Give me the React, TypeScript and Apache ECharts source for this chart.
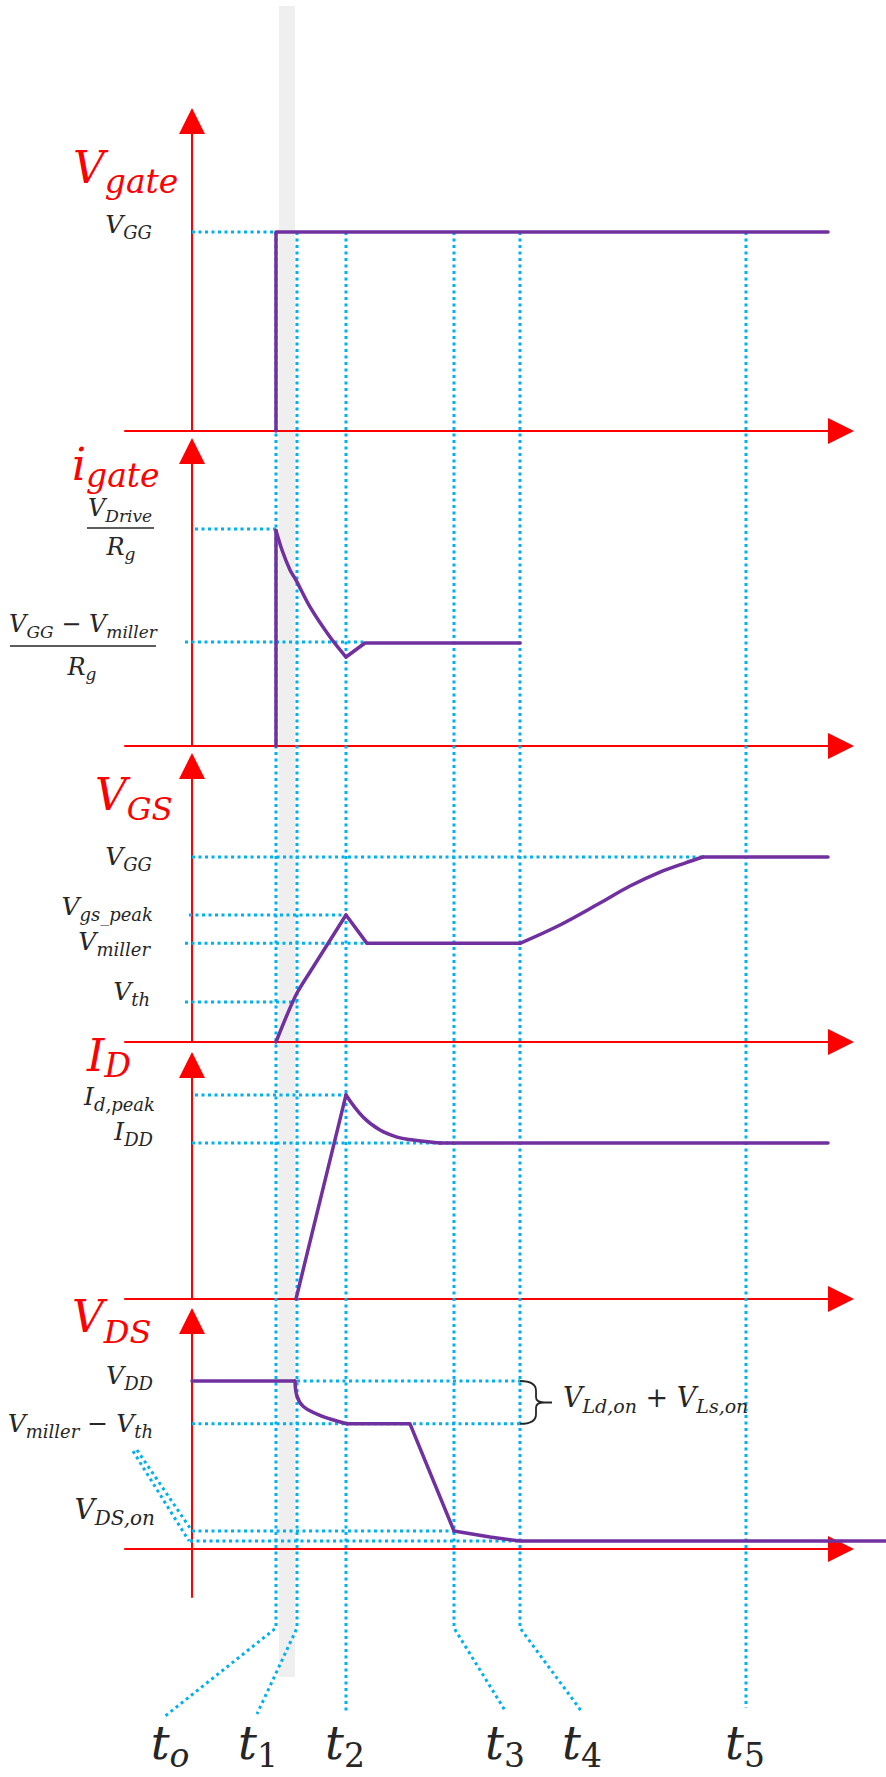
import React, { useEffect, useRef } from 'react';
import * as echarts from 'echarts';

// ---------- DATA (time in ns, per-panel value units) ----------
const tickTimes = [8.4, 10.5, 15.4, 26.2, 32.8, 55.4]; // t_o .. t_5
const tickSubs = ['o', '1', '2', '3', '4', '5'];

// Panel 1: V_gate (V)
const VGG = 15;
const vGate: number[][] = [[8.4, 0], [8.4, 15], [63.6, 15]];

// Panel 2: i_gate (A)
const iDrive = 1.5; // V_Drive / R_g
const iMiller = 0.719; // (V_GG - V_miller) / R_g
const iGateStep: number[][] = [[8.4, 0], [8.4, 1.49]];
const iGateDecay: number[][] = [
  [8.4, 1.49], [9.0, 1.355], [9.8, 1.217], [10.4, 1.147], [11.8, 0.961], [13.8, 0.753], [15.4, 0.615],
];
const iGatePlateau: number[][] = [[15.4, 0.615], [17.3, 0.712], [32.8, 0.712]];

// Panel 3: V_GS (V)
const vgsPeak = 10.3;
const vMiller = 8.0;
const vTh = 3.24;
const vGSRise: number[][] = [
  [8.4, 0], [9.5, 2.19], [10.5, 3.97], [11.8, 5.68], [13.0, 7.22], [14.2, 8.76], [15.4, 10.3],
];
const vGSMiller: number[][] = [[15.4, 10.3], [17.5, 8.0], [32.8, 8.0]];
const vGSCharge: number[][] = [
  [32.8, 8.0], [36.8, 9.49], [40.8, 11.27], [43.8, 12.65], [46.8, 13.78], [49.3, 14.51], [51.1, 15.0],
];
const vGSFinal: number[][] = [[51.1, 15.0], [63.6, 15.0]];

// Panel 4: I_D (A)
const idPeak = 13.08;
const iDD = 10;
const iDRise: number[][] = [[10.4, 0], [12.5, 5.51], [15.4, 13.08]];
const iDDecay: number[][] = [
  [15.4, 13.08], [17.1, 11.67], [18.8, 10.83], [20.5, 10.38], [22.1, 10.19], [23.8, 10.06], [24.8, 10.0],
];
const iDFlat: number[][] = [[24.8, 10.0], [63.6, 10.0]];

// Panel 5: V_DS (V)
const vDD = 400;
const vMilTh = 298;
const vDSon1 = 42.9;
const vDSon2 = 19.0;
const vDSOff: number[][] = [[0, 400], [10.3, 400]];
const vDSDip: number[][] = [[10.3, 400], [10.5, 364], [11.1, 340], [12.5, 321], [13.8, 309.5], [15.5, 298]];
const vDSFall: number[][] = [[15.5, 298], [21.8, 298], [26.2, 42.9], [29.8, 28.6], [32.8, 19.0], [64.9, 19.0]];
const vDSTail: number[][] = [[64.9, 19.0], [69.4, 19.0]];

// dotted reference levels per panel: [from t, to t, level]
const levels: number[][][] = [
  [[0, 8.4, VGG]],
  [[0.3, 8.4, iDrive], [-0.7, 17.3, iMiller]],
  [[0, 51.1, VGG], [-0.3, 15.4, vgsPeak], [-0.7, 17.5, vMiller], [-0.7, 10.5, vTh]],
  [[0.3, 15.4, idPeak], [0, 26.2, iDD]],
  [[10.5, 32.8, vDD], [0, 32.8, vMilTh], [0, 26.2, vDSon1], [-0.2, 32.8, vDSon2]],
];
const vdsLeaders: number[][][] = [
  [[-5.5, 235.7], [0, vDSon1]],
  [[-5.9, 233], [-0.3, vDSon2]],
];

// ---------- LAYOUT / STYLE ----------
const FONT = '"DejaVu Serif"';
const RED = '#FF0000';
const PURPLE = '#7030A0';
const BLUE = '#00B0F0';
const INK = '#262626';
const X_MIN = -6.7;
const X_MAX = 64.9;
const panels = [
  { top: 121, height: 310, yMin: 0, yMax: 23.37 },
  { top: 451, height: 295, yMin: 0, yMax: 2.039 },
  { top: 766, height: 276, yMin: 0, yMax: 22.38 },
  { top: 1065, height: 234, yMin: 0, yMax: 15.0 },
  { top: 1321, height: 276, yMin: -114.3, yMax: 542.9 },
];
// [data, panel, smoothness]
const waves: [number[][], number, number][] = [
  [vGate, 0, 0],
  [iGateStep, 1, 0], [iGateDecay, 1, 0.35], [iGatePlateau, 1, 0],
  [vGSRise, 2, 0.3], [vGSMiller, 2, 0], [vGSCharge, 2, 0.35], [vGSFinal, 2, 0],
  [iDRise, 3, 0.2], [iDDecay, 3, 0.4], [iDFlat, 3, 0],
  [vDSOff, 4, 0], [vDSDip, 4, 0.4], [vDSFall, 4, 0],
];
const leaders = [
  { bend: true, ex: 164, ey: 1717 },
  { bend: true, ex: 257, ey: 1714 },
  { bend: false, ex: 0, ey: 1713 },
  { bend: true, ex: 506, ey: 1712 },
  { bend: true, ex: 582, ey: 1712 },
  { bend: false, ex: 0, ey: 1708 },
];
const tLabelX = [170, 258, 345, 505, 582, 745];

const BRACE_D =
  'M0 0 C11 0 16 3 16 9 L16 15 C16 18 18 20 24 20 C18 20 16 22 16 25 L16 31 C16 37 11 40 0 40 M24 20 L32 20';
echarts.graphic.registerShape('brace', echarts.graphic.extendPath(BRACE_D, {}) as any);

type Tok = [string, number, number?, boolean?];
function mtext(x: number, yBase: number, toks: Tok[], color: string, align: string): any {
  const M = toks[0][1];
  const rich: any = {};
  let text = '';
  toks.forEach(([t, s, d = 0, it = true], i) => {
    const pad = Math.max(0, d + 0.846 * (M - s));
    rich['k' + i] = {
      font: `${it ? 'italic ' : ''}${s}px ${FONT}`,
      fill: color,
      height: s,
      padding: [pad, 0, 0, 0],
      verticalAlign: 'top',
    };
    text += `{k${i}|${t}}`;
  });
  return {
    type: 'text',
    x,
    y: yBase - 0.846 * M,
    z: 10,
    silent: true,
    style: { text, rich, fill: color, font: `italic ${M}px ${FONT}`, align, verticalAlign: 'top' },
  };
}

function buildOption(): any {
  const axisLine = {
    show: true,
    onZero: true,
    symbol: ['none', 'triangle'],
    symbolSize: [26, 26],
    lineStyle: { color: RED, width: 2 },
  };
  const hidden = { axisTick: { show: false }, axisLabel: { show: false }, splitLine: { show: false } };
  const purple = (data: number[][], i: number, smooth: number) => ({
    type: 'line', xAxisIndex: i, yAxisIndex: i, data, showSymbol: false, symbol: 'none', smooth,
    lineStyle: { color: PURPLE, width: 3.5, cap: 'round', join: 'round' }, clip: false, z: 5, silent: true,
  });
  const dotted = (data: number[][], i: number) => ({
    type: 'line', xAxisIndex: i, yAxisIndex: i, data, showSymbol: false, symbol: 'none',
    lineStyle: { color: BLUE, width: 3, type: [3, 3.5], cap: 'butt' }, clip: false, z: 2, silent: true,
  });
  const series: any[] = [];
  levels.forEach((lv, i) => lv.forEach(([a, b, v]) => series.push(dotted([[a, v], [b, v]], i))));
  vdsLeaders.forEach((seg) => series.push(dotted(seg, 4)));
  waves.forEach(([d, i, s]) => series.push(purple(d, i, s)));
  return {
    animation: false,
    backgroundColor: '#ffffff',
    grid: panels.map((p) => ({ left: 125, width: 716, top: p.top, height: p.height, outerBoundsMode: 'none', containLabel: false })),
    xAxis: panels.map((p, i) => ({
      type: 'value', gridIndex: i, min: X_MIN, max: X_MAX, z: 1, axisLine, ...hidden,
    })),
    yAxis: panels.map((p, i) => ({
      type: 'value', gridIndex: i, min: p.yMin, max: p.yMax, z: 1, axisLine, ...hidden,
    })),
    series,
  };
}

export default function App() {
  const ref = useRef<HTMLDivElement>(null);
  useEffect(() => {
    const chart = echarts.init(ref.current!, null, { renderer: 'svg' });
    chart.setOption(buildOption());
    const px = (g: number, t: number, v: number) =>
      chart.convertToPixel({ gridIndex: g } as any, [t, v]) as unknown as number[];

    const els: any[] = [];
    // grey t_o - t_1 band
    const bx0 = px(0, tickTimes[0], 0)[0] + 3;
    const bx1 = px(0, tickTimes[1], 0)[0] - 2;
    els.push({ type: 'rect', z: 0, silent: true, shape: { x: bx0, y: 6, width: bx1 - bx0, height: 1671 }, style: { fill: '#EFEFEF' } });

    // V_DS waveform continues past the axis arrow (beyond the grid's x range)
    const tailPts = vDSTail.map(([t, v]) => px(4, t, v));
    els.push({
      type: 'polyline', z: 6, silent: true, shape: { points: tailPts },
      style: { stroke: PURPLE, lineWidth: 3.5, fill: null },
    });

    // vertical dotted time markers with leaders to labels
    tickTimes.forEach((t, i) => {
      const [x, yTop] = px(0, t, VGG);
      const L = leaders[i];
      const pts = L.bend ? [[x, yTop], [x, 1628], [L.ex, L.ey]] : [[x, yTop], [x, L.ey]];
      els.push({
        type: 'polyline', z: 2, silent: true, shape: { points: pts },
        style: { stroke: BLUE, lineWidth: 3, lineDash: [3, 3.5], fill: null },
      });
      els.push(mtext(tLabelX[i], 1759, [['t', 47], [tickSubs[i], 33, 8, tickSubs[i] === 'o']], INK, 'center'));
    });

    // brace
    const [bx, by0] = px(4, tickTimes[4], vDD);
    const by1 = px(4, tickTimes[4], vMilTh)[1];
    els.push({
      type: 'brace', x: bx, y: by0, scaleX: 1, scaleY: (by1 - by0) / 40, z: 10, silent: true,
      style: { stroke: INK, lineWidth: 1.8, fill: 'none' },
    });
    els.push(mtext(563, 1407, [['V', 27], ['Ld,on', 19, 6], ['\u00A0+\u00A0', 27, 0, false], ['V', 27], ['Ls,on', 19, 6]], INK, 'left'));

    // panel titles
    els.push(mtext(73, 183, [['V', 44], ['gate', 33, 10]], RED, 'left'));
    els.push(mtext(72, 480, [['i', 44], ['gate', 33, 7]], RED, 'left'));
    els.push(mtext(95, 810, [['V', 44], ['GS', 31, 10]], RED, 'left'));
    els.push(mtext(87, 1071, [['I', 44], ['D', 33, 6]], RED, 'left'));
    els.push(mtext(72, 1332, [['V', 44], ['DS', 32, 11]], RED, 'left'));

    // level labels
    els.push(mtext(152, 233, [['V', 25], ['GG', 18, 6]], INK, 'right'));
    // fractions
    els.push(mtext(120, 516, [['V', 24], ['Drive', 17, 6]], INK, 'center'));
    els.push({ type: 'line', z: 10, silent: true, shape: { x1: 87, y1: 528, x2: 154, y2: 528 }, style: { stroke: INK, lineWidth: 1.6 } });
    els.push(mtext(121, 555, [['R', 24], ['g', 17, 5]], INK, 'center'));
    els.push(mtext(83, 632, [['V', 24], ['GG', 17, 6], ['\u00A0\u2212\u00A0', 24, 0, false], ['V', 24], ['miller', 17, 6]], INK, 'center'));
    els.push({ type: 'line', z: 10, silent: true, shape: { x1: 10, y1: 646, x2: 156, y2: 646 }, style: { stroke: INK, lineWidth: 1.6 } });
    els.push(mtext(82, 675, [['R', 24], ['g', 17, 5]], INK, 'center'));

    els.push(mtext(152, 865, [['V', 25], ['GG', 18, 6]], INK, 'right'));
    els.push(mtext(153, 915, [['V', 25], ['gs_peak', 18, 6]], INK, 'right'));
    els.push(mtext(150, 950, [['V', 25], ['miller', 18, 6]], INK, 'right'));
    els.push(mtext(150, 1000, [['V', 25], ['th', 18, 6]], INK, 'right'));

    els.push(mtext(155, 1105, [['I', 25], ['d,peak', 18, 6]], INK, 'right'));
    els.push(mtext(153, 1140, [['I', 25], ['DD', 18, 6]], INK, 'right'));

    els.push(mtext(153, 1384, [['V', 25], ['DD', 18, 6]], INK, 'right'));
    els.push(mtext(153, 1432, [['V', 25], ['miller', 18, 6], ['\u00A0\u2212\u00A0', 25, 0, false], ['V', 25], ['th', 18, 6]], INK, 'right'));
    els.push(mtext(155, 1519, [['V', 28], ['DS,on', 20, 6]], INK, 'right'));

    chart.setOption({ graphic: { elements: els } });
    return () => chart.dispose();
  }, []);
  return (
    <div
      ref={ref}
      style={{ position: 'absolute', left: 0, top: 0, width: 886, height: 1777, background: '#fff' }}
    />
  );
}
